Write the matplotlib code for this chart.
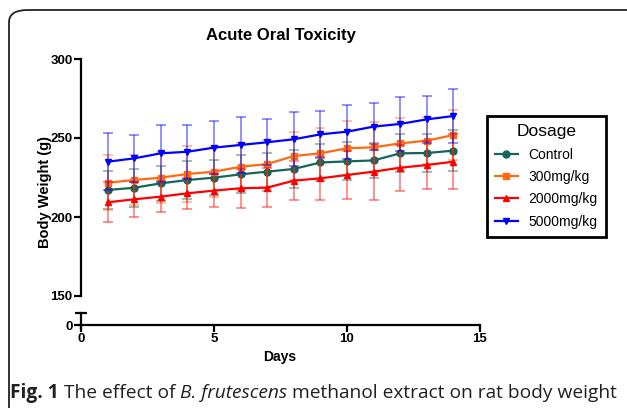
import matplotlib.pyplot as plt
from matplotlib.patches import FancyBboxPatch
import numpy as np

days = [1, 2, 3, 4, 5, 6, 7, 8, 9, 10, 11, 12, 13, 14]
control = [217.1, 218.5, 221.3, 223.4, 224.9, 227.0, 228.7, 230.4, 234.5, 235.2, 235.8, 240.3, 240.5, 242.0]
control_sd = [12, 12, 11, 12, 11, 12, 12, 12, 12, 12, 11, 12, 12, 13]
d300 = [221.7, 223.4, 224.9, 227.2, 228.7, 231.8, 233.5, 238.6, 240.3, 243.5, 244.1, 246.6, 248.3, 251.9]
d300_sd = [17.5, 16, 16, 17.5, 16, 15, 15, 15, 16, 17, 16, 16, 15, 16]
d2000 = [209.3, 211.2, 212.9, 215.0, 216.7, 218.2, 218.6, 223.0, 224.5, 226.6, 228.7, 231.2, 232.9, 235.0]
d2000_sd = [12.7, 11, 10, 10, 10.4, 12.3, 12.3, 12.2, 13.7, 15.2, 17.7, 14.5, 15.4, 17.5]
d5000 = [235.0, 237.1, 240.3, 241.3, 243.9, 245.6, 247.3, 249.2, 252.3, 254.0, 257.2, 258.9, 261.8, 263.9]
d5000_sd = [18, 15, 18, 17, 17, 17.5, 14.5, 17, 15, 17, 15, 17, 15, 17]

labels = ['Control', '300mg/kg', '2000mg/kg', '5000mg/kg']
colors = ['#17645a', '#ff6a10', '#ff0000', '#0000ff']
markers = ['o', 's', '^', 'v']
series = [(control, control_sd), (d300, d300_sd), (d2000, d2000_sd), (d5000, d5000_sd)]

plt.rcParams['font.family'] = ['Liberation Sans', 'DejaVu Sans']

W, H = 627, 408
fig = plt.figure(figsize=(W / 100, H / 100), dpi=100)

# frame around the panel (runs off the right and bottom edges)
frame = FancyBboxPatch((9 / W, -0.2), 1.2, (H - 10) / H + 0.2,
                       boxstyle='round,pad=0,rounding_size=0.03',
                       transform=fig.transFigure, fill=False, ec='#222222', lw=1.3)
fig.patches.append(frame)

left, width = 81 / W, 399 / W
ax = fig.add_axes([left, (H - 296) / H, width, 237 / H])
axb = fig.add_axes([left, (H - 329) / H, width, 16 / H])

handles = []
for (vals, sd), lab, c, m in zip(series, labels, colors, markers):
    ax.errorbar(days, vals, yerr=sd, fmt='none', ecolor=c, alpha=0.5,
                elinewidth=1.2, capsize=3.5, capthick=1.2)
    h, = ax.plot(days, vals, color=c, marker=m, ms=5, lw=1.6, label=lab)
    handles.append(h)

for a in (ax, axb):
    a.set_xlim(0, 15)
    a.spines['top'].set_visible(False)
    a.spines['right'].set_visible(False)
    a.patch.set_alpha(0)

ax.set_ylim(150, 300)
ax.set_yticks([150, 200, 250, 300])
ax.spines['bottom'].set_visible(False)
ax.spines['left'].set_linewidth(1.6)
ax.tick_params(axis='x', bottom=False, labelbottom=False)
ax.tick_params(axis='y', direction='out', length=5, width=1.6, labelsize=9.5, pad=1)
for t in ax.get_yticklabels():
    t.set_fontweight('bold')

axb.set_ylim(-4, 12)
axb.set_yticks([0])
axb.spines['bottom'].set_position(('data', 0))
axb.spines['bottom'].set_linewidth(1.6)
axb.spines['left'].set_linewidth(1.6)
axb.spines['left'].set_bounds(-3, 12)
axb.plot([0], [12], marker='_', ms=9, mew=1.6, color='black', clip_on=False)
axb.set_xticks([0, 5, 10, 15])
axb.tick_params(direction='out', length=5, width=1.6, labelsize=9.5, pad=1)
for t in axb.get_xticklabels() + axb.get_yticklabels():
    t.set_fontweight('bold')

ax.set_title('Acute Oral Toxicity', fontsize=12, fontweight='bold', pad=14)
fig.text(45 / W, 1 - 192 / H, 'Body Weight (g)', rotation=90, ha='center', va='center',
         fontsize=10.5, fontweight='bold')
fig.text(280 / W, 1 - 357 / H, 'Days', ha='center', va='center', fontsize=10, fontweight='bold')

leg = fig.legend(handles=handles, labels=labels, title='Dosage', loc='upper left',
                 bbox_to_anchor=(487 / W, 1 - 116 / H), borderaxespad=0,
                 fontsize=10, title_fontsize=12.5,
                 fancybox=False, edgecolor='black', handlelength=1.6, handletextpad=0.8,
                 labelspacing=0.6, borderpad=0.6)
leg.get_frame().set_linewidth(2)
leg.get_frame().set_alpha(1)

# caption with mixed styles
cap = [('Fig. 1', 'bold', 'normal'), (' The effect of ', 'normal', 'normal'),
       ('B. frutescens', 'normal', 'italic'),
       (' methanol extract on rat body weight', 'normal', 'normal')]
renderer = fig.canvas.get_renderer()
x = 10 / W
for txt, wt, st in cap:
    t = fig.text(x, 1 - 398 / H, txt, fontsize=13.8, fontweight=wt, style=st,
                 family=['Open Sans', 'DejaVu Sans'], color='#231f20', va='baseline')
    bb = t.get_window_extent(renderer=renderer)
    x += bb.width / W

fig.savefig('out.png', dpi=100)
